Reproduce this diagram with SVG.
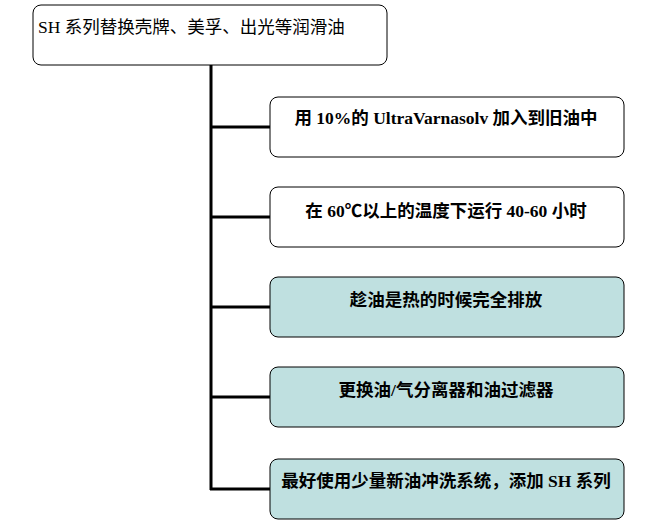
<svg xmlns="http://www.w3.org/2000/svg" width="650" height="524" viewBox="0 0 650 524">
<style>
.b{stroke:#000;stroke-width:1;}
.w{fill:#fff}
.t{fill:#bfe0e0}
text{font-family:"Liberation Serif","Noto Sans CJK SC",serif;font-size:17.5px;fill:#000}
.c{text-anchor:middle;font-weight:bold}
</style>
<rect width="650" height="524" fill="#fff"/>
<g id="connectors" stroke="#000" stroke-width="3" fill="none">
<path d="M211 65V490M210 127H270M210 217H270M210 307H270M210 397H270M210 489H270"/>
</g>
<g id="n0"><rect class="b w" x="33" y="5" width="354" height="60" rx="8"/><text x="38" y="33">SH 系列替换壳牌、美孚、出光等润滑油</text></g>
<g id="n1"><rect class="b w" x="270" y="97" width="354" height="60" rx="8"/><text class="c" x="446" y="124">用 10%的 UltraVarnasolv 加入到旧油中</text></g>
<g id="n2"><rect class="b w" x="270" y="187" width="354" height="60" rx="8"/><text class="c" x="446" y="217">在 60℃以上的温度下运行 40-60 小时</text></g>
<g id="n3"><rect class="b t" x="270" y="277" width="354" height="60" rx="8"/><text class="c" x="446" y="306">趁油是热的时候完全排放</text></g>
<g id="n4"><rect class="b t" x="270" y="367" width="354" height="60" rx="8"/><text class="c" x="446" y="396">更换油/气分离器和油过滤器</text></g>
<g id="n5"><rect class="b t" x="270" y="459" width="354" height="60" rx="8"/><text class="c" x="446" y="487">最好使用少量新油冲洗系统，添加 SH 系列</text></g>
</svg>
